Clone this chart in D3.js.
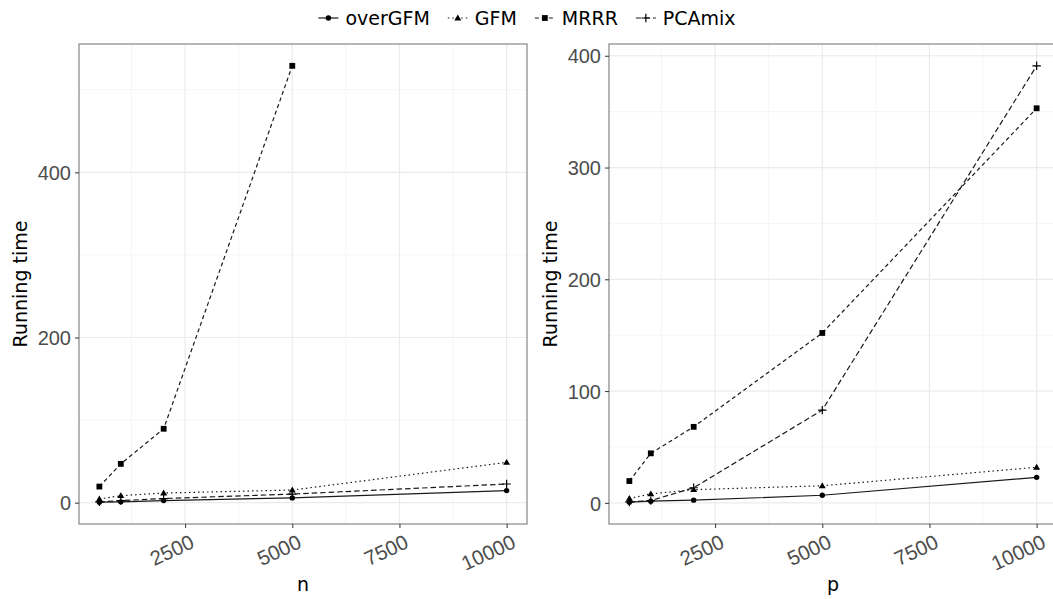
<!DOCTYPE html>
<html>
<head>
<meta charset="utf-8">
<script src="https://cdn.jsdelivr.net/npm/d3@7"></script>
<style>
  html, body { margin: 0; padding: 0; background: #fff; }
  svg { display: block; font-family: "DejaVu Sans", sans-serif; }
</style>
</head>
<body>
<svg id="chart" width="1053" height="599"></svg>
<script>
// Sizes evaluated in both panels
const sizes = [500, 1000, 2000, 5000, 10000];
const methods = ["overGFM", "GFM", "MRRR", "PCAmix"];
const xTicks = [2500, 5000, 7500, 10000];

// Running time as a function of n
const nOverGFM = [0.6, 1.0, 2.5, 5.8, 14.6];
const nGFM     = [4.5, 8.5, 11.7, 15.3, 48.8];
const nMRRR    = [19.5, 47, 89.5, 529, null];
const nPCAmix  = [1.0, 2.5, 5, 10.4, 22.6];

// Running time as a function of p
const pOverGFM = [0.6, 1.5, 2.4, 6.8, 22.8];
const pGFM     = [4, 8, 11.8, 15.3, 31.8];
const pMRRR    = [19.5, 44.3, 68, 152, 353];
const pPCAmix  = [0.8, 2, 13.5, 83, 391];

const leftTicks = [0, 200, 400];
const rightTicks = [0, 100, 200, 300, 400];

const svg = d3.select("#chart");

const dashes = {
  overGFM: null,
  GFM: "1.5,3",
  MRRR: "4,3",
  PCAmix: "5.5,3"
};

function marker(g, type, x, y) {
  if (type === "overGFM") {
    g.append("circle").attr("cx", x).attr("cy", y).attr("r", 2.7).attr("fill", "#000");
  } else if (type === "GFM") {
    const s = 3.5;
    g.append("path")
      .attr("d", `M${x},${y - s}L${x + s},${y + s * 0.7}L${x - s},${y + s * 0.7}Z`)
      .attr("fill", "#000");
  } else if (type === "MRRR") {
    g.append("rect").attr("x", x - 2.9).attr("y", y - 2.9).attr("width", 5.8).attr("height", 5.8).attr("fill", "#000");
  } else {
    g.append("path")
      .attr("d", `M${x - 4.2},${y}H${x + 4.2}M${x},${y - 4.2}V${y + 4.2}`)
      .attr("stroke", "#000").attr("stroke-width", 1.2);
  }
}

function panel(opts) {
  const { left, top, width, height, series, yTicks, xTitle } = opts;
  const g = svg.append("g").attr("transform", `translate(${left},${top})`);

  const x = d3.scaleLinear()
    .domain([sizes[0] - 0.05 * (sizes[4] - sizes[0]), sizes[4] + 0.05 * (sizes[4] - sizes[0])])
    .range([0, width]);

  const all = series.flatMap(s => s.values.filter(v => v != null));
  const [lo, hi] = d3.extent(all);
  const pad = 0.05 * (hi - lo);
  const y = d3.scaleLinear().domain([lo - pad, hi + pad]).range([height, 0]);

  // grid: minor lines midway between major ticks
  const xMinor = [1250, 3750, 6250, 8750];
  const step = yTicks[1] - yTicks[0];
  const yMinor = d3.range(yTicks[0] + step / 2, y.domain()[1], step);

  g.selectAll(".xminor").data(xMinor).join("line")
    .attr("x1", d => x(d)).attr("x2", d => x(d)).attr("y1", 0).attr("y2", height)
    .attr("stroke", "#f2f2f2").attr("stroke-width", 0.8);
  g.selectAll(".yminor").data(yMinor).join("line")
    .attr("x1", 0).attr("x2", width).attr("y1", d => y(d)).attr("y2", d => y(d))
    .attr("stroke", "#f2f2f2").attr("stroke-width", 0.8);
  g.selectAll(".xmajor").data(xTicks).join("line")
    .attr("x1", d => x(d)).attr("x2", d => x(d)).attr("y1", 0).attr("y2", height)
    .attr("stroke", "#ebebeb").attr("stroke-width", 1.2);
  g.selectAll(".ymajor").data(yTicks).join("line")
    .attr("x1", 0).attr("x2", width).attr("y1", d => y(d)).attr("y2", d => y(d))
    .attr("stroke", "#ebebeb").attr("stroke-width", 1.2);

  // series lines and points
  const line = d3.line()
    .defined(d => d.v != null)
    .x(d => x(d.s)).y(d => y(d.v));

  series.forEach(s => {
    const pts = sizes.map((sz, i) => ({ s: sz, v: s.values[i] }));
    g.append("path")
      .attr("d", line(pts))
      .attr("fill", "none")
      .attr("stroke", "#1a1a1a")
      .attr("stroke-width", 1.2)
      .attr("stroke-dasharray", dashes[s.name]);
    pts.filter(d => d.v != null).forEach(d => marker(g, s.name, x(d.s), y(d.v)));
  });

  // panel border
  g.append("rect").attr("x", 0).attr("y", 0).attr("width", width).attr("height", height)
    .attr("fill", "none").attr("stroke", "#7a7a7a").attr("stroke-width", 1.1);

  // x axis
  const xAxis = g.append("g").attr("transform", `translate(0,${height})`)
    .call(d3.axisBottom(x).tickValues(xTicks).tickSize(4).tickFormat(d3.format("d")));
  xAxis.select(".domain").remove();
  xAxis.selectAll("line").attr("stroke", "#333").attr("stroke-width", 1);
  xAxis.selectAll("text")
    .attr("fill", "#4d4d4d")
    .attr("font-size", 20.5)
    .attr("text-anchor", "end")
    .attr("y", 0).attr("dy", 0)
    .attr("transform", "translate(10,23) rotate(-25)");

  // y axis
  const yAxis = g.append("g")
    .call(d3.axisLeft(y).tickValues(yTicks).tickSize(4).tickPadding(4).tickFormat(d3.format("d")));
  yAxis.select(".domain").remove();
  yAxis.selectAll("line").attr("stroke", "#333").attr("stroke-width", 1);
  yAxis.selectAll("text").attr("fill", "#4d4d4d").attr("font-size", 20).attr("dy", "0.36em");

  // titles
  g.append("text")
    .attr("x", width / 2).attr("y", height + 67)
    .attr("text-anchor", "middle").attr("font-size", 19).attr("fill", "#000")
    .text(xTitle);
  g.append("text")
    .attr("transform", `translate(${opts.yTitleX},${height / 2}) rotate(-90)`)
    .attr("text-anchor", "middle").attr("font-size", 19).attr("fill", "#000")
    .text("Running time");
}

panel({
  left: 79, top: 44, width: 448, height: 480,
  series: [
    { name: "overGFM", values: nOverGFM },
    { name: "GFM", values: nGFM },
    { name: "MRRR", values: nMRRR },
    { name: "PCAmix", values: nPCAmix }
  ],
  yTicks: leftTicks, xTitle: "n", yTitleX: -52
});

panel({
  left: 609, top: 44, width: 448, height: 480,
  series: [
    { name: "overGFM", values: pOverGFM },
    { name: "GFM", values: pGFM },
    { name: "MRRR", values: pMRRR },
    { name: "PCAmix", values: pPCAmix }
  ],
  yTicks: rightTicks, xTitle: "p", yTitleX: -52
});

// legend across the top
const legend = svg.append("g");
const keyLen = 20, keyGap = 7, itemGap = 18;
let cx = 0;
methods.forEach(m => {
  const item = legend.append("g").attr("transform", `translate(${cx},0)`);
  item.append("line").attr("x1", 0).attr("x2", keyLen).attr("y1", 0).attr("y2", 0)
    .attr("stroke", "#1a1a1a").attr("stroke-width", 1.2)
    .attr("stroke-dasharray", dashes[m]);
  marker(item, m, keyLen / 2, 0);
  const t = item.append("text").attr("x", keyLen + keyGap).attr("y", 7)
    .attr("font-size", 19).attr("fill", "#000").text(m);
  cx += keyLen + keyGap + t.node().getComputedTextLength() + itemGap;
});
const legendWidth = cx - itemGap;
legend.attr("transform", `translate(${527 - legendWidth / 2},18)`);
</script>
</body>
</html>
